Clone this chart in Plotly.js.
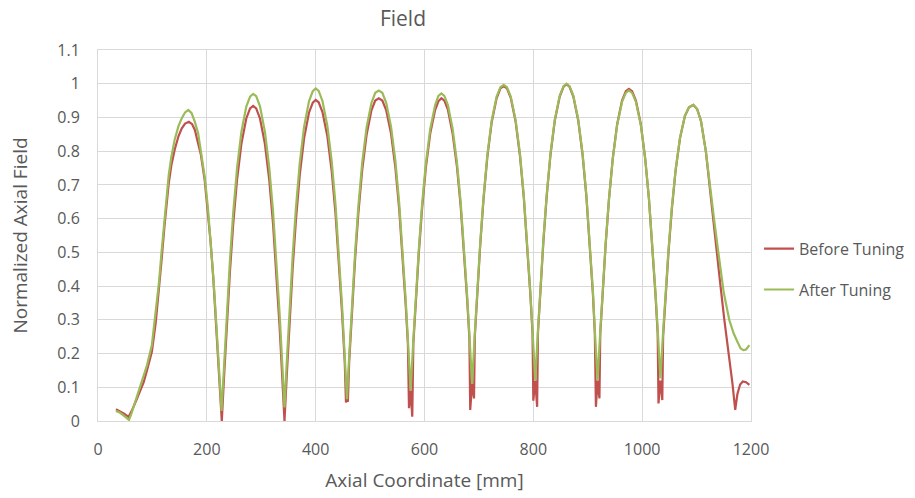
<!DOCTYPE html>
<html>
<head>
<meta charset="utf-8">
<script src="https://cdn.plot.ly/plotly-3.0.1.min.js"></script>
<style>html,body{margin:0;padding:0;background:#fff;}#chart{width:915px;height:498px;}</style>
</head>
<body>
<div id="chart"></div>
<script>
// ---- Data ----
const chartTitle = "Field";
const xTitle = "Axial Coordinate [mm]";
const yTitle = "Normalized Axial Field";
const seriesNames = ["Before Tuning", "After Tuning"];

const beforeX = [
  33, 40, 48, 56, 62, 70, 77, 84, 90, 99, 106, 112, 117, 122, 126, 130, 135, 141, 148, 154, 160, 167, 173, 178, 184, 189, 196, 202, 207, 212, 216, 220, 224, 227.5,
  231.5, 236.5, 242.5, 248.5, 255.5, 263.5, 272.5, 279.5, 285.1, 290.7, 297.7, 306.7, 314.7, 321.7, 327.7, 333.7, 338.7, 342.7,
  346.7, 351.7, 357.7, 363.7, 370.7, 378.7, 387.7, 394.7, 400.1, 405.5, 412.5, 421.5, 429.5, 436.5, 442.5, 448.5, 453.5, 455.7, 457.4, 459.2,
  461.5, 466.5, 472.5, 478.5, 485.5, 493.5, 502.5, 509.5, 516, 522.5, 529.5, 538.5, 546.5, 553.5, 559.5, 565.5, 569.5, 571.5, 574.5, 577.5,
  579.5, 583.5, 589.5, 595.5, 602.5, 610.5, 619.5, 625.5, 631, 636.5, 643, 651.5, 659.5, 666.5, 672.5, 678.5, 682.5, 684, 687.5, 691,
  692.5, 696.5, 702.5, 708.5, 715.5, 723.5, 732.5, 739.5, 745.5, 751.5, 758.5, 767.5, 775.5, 782.5, 788.5, 794.5, 798.5, 800, 803.5, 807,
  808.5, 812.5, 818.5, 824.5, 831.5, 839.5, 848.5, 855.5, 861, 866.5, 873.5, 882.5, 890.5, 897.5, 903.5, 909.5, 913, 915, 918, 921.5,
  923, 927, 933, 939, 946, 954, 963, 970, 975.7, 981.5, 988.5, 997.5, 1005.5, 1012.5, 1018.5, 1024.5, 1028.5, 1030, 1033.5, 1037,
  1038.5, 1042.5, 1048.5, 1054.5, 1061.5, 1069.5, 1078.5, 1086, 1094, 1101, 1108, 1117, 1123.5, 1130, 1137, 1144, 1151, 1160, 1166, 1171, 1175, 1180, 1185, 1191, 1197
];
const beforeY = [
  0.035, 0.03, 0.022, 0.012, 0.03, 0.06, 0.09, 0.115, 0.15, 0.205, 0.29, 0.385, 0.48, 0.575, 0.645, 0.705, 0.76, 0.805, 0.845, 0.868, 0.882, 0.887, 0.88, 0.863, 0.823, 0.79, 0.715, 0.625, 0.53, 0.42, 0.32, 0.21, 0.1, 0,
  0.126, 0.28, 0.444, 0.584, 0.715, 0.822, 0.897, 0.927, 0.934, 0.927, 0.897, 0.822, 0.715, 0.584, 0.444, 0.28, 0.126, 0,
  0.129, 0.286, 0.452, 0.595, 0.728, 0.838, 0.914, 0.944, 0.952, 0.945, 0.916, 0.844, 0.74, 0.614, 0.478, 0.321, 0.172, 0.055, 0.065, 0.057,
  0.172, 0.322, 0.481, 0.617, 0.744, 0.848, 0.921, 0.95, 0.957, 0.95, 0.922, 0.852, 0.751, 0.628, 0.497, 0.343, 0.229, 0.038, 0.09, 0.013,
  0.229, 0.343, 0.497, 0.628, 0.751, 0.852, 0.922, 0.948, 0.957, 0.95, 0.923, 0.854, 0.756, 0.636, 0.507, 0.357, 0.246, 0.033, 0.11, 0.067,
  0.252, 0.368, 0.524, 0.658, 0.783, 0.886, 0.957, 0.986, 0.993, 0.986, 0.958, 0.887, 0.785, 0.662, 0.529, 0.375, 0.26, 0.06, 0.12, 0.042,
  0.261, 0.376, 0.532, 0.665, 0.789, 0.891, 0.962, 0.991, 0.998, 0.991, 0.962, 0.891, 0.789, 0.665, 0.532, 0.376, 0.261, 0.042, 0.12, 0.067,
  0.259, 0.373, 0.526, 0.657, 0.779, 0.88, 0.95, 0.978, 0.985, 0.978, 0.95, 0.88, 0.779, 0.657, 0.526, 0.373, 0.259, 0.052, 0.12, 0.062,
  0.251, 0.358, 0.503, 0.627, 0.743, 0.838, 0.904, 0.93, 0.937, 0.925, 0.89, 0.8, 0.7, 0.6, 0.5, 0.4, 0.3, 0.19, 0.11, 0.033, 0.08, 0.108, 0.117, 0.115, 0.107
];

const afterX = [
  33, 40, 48, 57, 62, 70, 77, 84, 90, 99, 106, 112, 117, 122, 126, 130, 135, 141, 148, 154, 160, 166, 172, 178, 184, 189, 196, 202, 207, 212, 216, 220, 224, 227,
  231.5, 236.5, 242.5, 248.5, 255.5, 263.5, 272.5, 279.5, 285.1, 290.7, 297.7, 306.7, 314.7, 321.7, 327.7, 333.7, 338.7, 342.7,
  346.7, 351.7, 357.7, 363.7, 370.7, 378.7, 387.7, 394.7, 400.1, 405.5, 412.5, 421.5, 429.5, 436.5, 442.5, 448.5, 453.5, 457.5,
  461.5, 466.5, 472.5, 478.5, 485.5, 493.5, 502.5, 509.5, 516, 522.5, 529.5, 538.5, 546.5, 553.5, 559.5, 565.5, 569.5, 574.5,
  579.5, 583.5, 589.5, 595.5, 602.5, 610.5, 619.5, 625.5, 631, 636.5, 643, 651.5, 659.5, 666.5, 672.5, 678.5, 682.5, 687.5,
  692.5, 696.5, 702.5, 708.5, 715.5, 723.5, 732.5, 739.5, 745.5, 751.5, 758.5, 767.5, 775.5, 782.5, 788.5, 794.5, 798.5, 803.5,
  808.5, 812.5, 818.5, 824.5, 831.5, 839.5, 848.5, 855.5, 861, 866.5, 873.5, 882.5, 890.5, 897.5, 903.5, 909.5, 913, 918,
  923, 927, 933, 939, 946, 954, 963, 970, 975.7, 981.5, 988.5, 997.5, 1005.5, 1012.5, 1018.5, 1024.5, 1028.5, 1033.5,
  1038.5, 1042.5, 1048.5, 1054.5, 1061.5, 1069.5, 1078.5, 1086, 1094, 1101, 1108, 1117, 1124, 1132, 1140, 1150, 1160, 1168, 1175, 1181, 1186, 1191, 1197
];
const afterY = [
  0.03, 0.025, 0.015, 0.003, 0.025, 0.065, 0.1, 0.13, 0.165, 0.225, 0.315, 0.41, 0.505, 0.6, 0.67, 0.73, 0.785, 0.835, 0.875, 0.898, 0.915, 0.922, 0.913, 0.887, 0.853, 0.805, 0.725, 0.632, 0.535, 0.425, 0.325, 0.215, 0.11, 0.03,
  0.157, 0.312, 0.477, 0.618, 0.749, 0.857, 0.932, 0.962, 0.97, 0.963, 0.933, 0.858, 0.751, 0.621, 0.482, 0.319, 0.166, 0.04,
  0.168, 0.324, 0.489, 0.631, 0.764, 0.872, 0.948, 0.978, 0.986, 0.979, 0.949, 0.875, 0.77, 0.641, 0.502, 0.341, 0.189, 0.065,
  0.189, 0.34, 0.5, 0.637, 0.765, 0.87, 0.943, 0.973, 0.98, 0.973, 0.944, 0.873, 0.771, 0.646, 0.513, 0.357, 0.241, 0.09,
  0.24, 0.354, 0.508, 0.641, 0.764, 0.865, 0.936, 0.964, 0.971, 0.964, 0.937, 0.868, 0.769, 0.648, 0.519, 0.368, 0.256, 0.11,
  0.261, 0.376, 0.531, 0.664, 0.789, 0.891, 0.962, 0.99, 0.997, 0.99, 0.962, 0.892, 0.791, 0.668, 0.537, 0.383, 0.269, 0.12,
  0.27, 0.384, 0.538, 0.67, 0.793, 0.894, 0.965, 0.993, 1.0, 0.993, 0.965, 0.894, 0.793, 0.67, 0.538, 0.384, 0.27, 0.12,
  0.266, 0.378, 0.529, 0.658, 0.778, 0.877, 0.946, 0.973, 0.98, 0.973, 0.946, 0.878, 0.779, 0.66, 0.532, 0.382, 0.271, 0.126,
  0.264, 0.369, 0.511, 0.633, 0.746, 0.84, 0.905, 0.93, 0.937, 0.925, 0.89, 0.8, 0.7, 0.6, 0.5, 0.38, 0.3, 0.26, 0.235, 0.215, 0.21, 0.212, 0.225
];

const xTicks = [0, 200, 400, 600, 800, 1000, 1200];
const yTicks = [0, 0.1, 0.2, 0.3, 0.4, 0.5, 0.6, 0.7, 0.8, 0.9, 1, 1.1];
const yTickText = ["0", "0.1", "0.2", "0.3", "0.4", "0.5", "0.6", "0.7", "0.8", "0.9", "1", "1.1"];

// ---- Styling ----
const FONT = "'Open Sans', 'Noto Sans', sans-serif";
const TXT = "#595959";
const GRID = "#d9d9d9";

const traces = [
  { x: beforeX, y: beforeY, name: seriesNames[0], type: "scatter", mode: "lines",
    line: { color: "#c0504d", width: 2.2 }, legendgroup: "a" },
  { x: afterX, y: afterY, name: seriesNames[1], type: "scatter", mode: "lines",
    line: { color: "#9bbb59", width: 2.2 }, legendgroup: "b" }
];

const layout = {
  width: 915, height: 498,
  margin: { l: 98, r: 164, t: 50, b: 77, autoexpand: false },
  paper_bgcolor: "#fff", plot_bgcolor: "#fff",
  font: { family: FONT, color: TXT, size: 16 },
  title: { text: chartTitle, font: { family: FONT, size: 21, color: TXT },
           xref: "container", yref: "container", x: 0.4404, xanchor: "center", y: 0.962, yanchor: "middle" },
  xaxis: {
    range: [0, 1200], tickvals: xTicks, ticktext: xTicks.map(String),
    showgrid: true, gridcolor: GRID, gridwidth: 1, zeroline: false,
    showline: true, linecolor: GRID, linewidth: 1, mirror: true,
    ticks: "", ticklabelstandoff: 14,
    tickfont: { family: FONT, size: 16, color: TXT },
    title: { text: xTitle, font: { family: FONT, size: 19, color: TXT }, standoff: 14 },
    fixedrange: true
  },
  yaxis: {
    range: [0, 1.1], tickvals: yTicks, ticktext: yTickText,
    showgrid: true, gridcolor: GRID, gridwidth: 1, zeroline: false,
    showline: true, linecolor: GRID, linewidth: 1, mirror: true,
    ticks: "", ticklabelstandoff: 14,
    tickfont: { family: FONT, size: 16, color: TXT },
    title: { text: yTitle, font: { family: FONT, size: 19, color: TXT }, standoff: 24 },
    fixedrange: true
  },
  showlegend: true,
  legend: {
    x: 1.0123, xanchor: "left", y: 0.51, yanchor: "top",
    font: { family: FONT, size: 16, color: TXT },
    bgcolor: "rgba(0,0,0,0)", borderwidth: 0,
    tracegroupgap: 17, traceorder: "grouped"
  }
};

Plotly.newPlot("chart", traces, layout, { displayModeBar: false, staticPlot: true });
</script>
</body>
</html>
